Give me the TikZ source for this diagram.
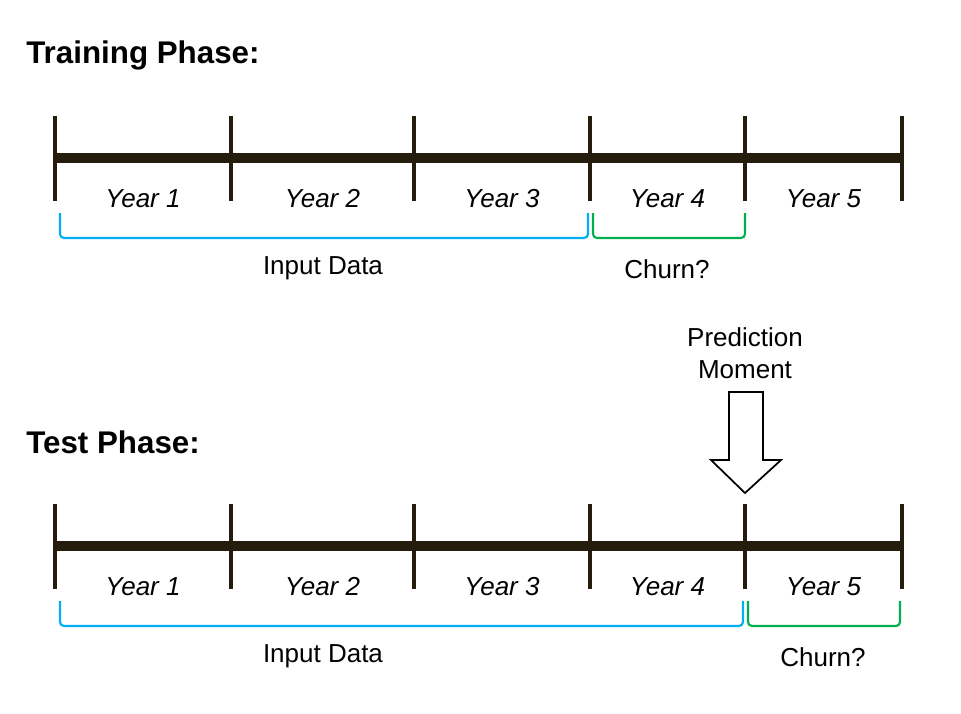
\documentclass[tikz,border=0pt]{standalone}
\usepackage{fontspec}
\setmainfont{Liberation Sans}
\usetikzlibrary{calc}
\definecolor{timeline}{RGB}{38,28,14}
\definecolor{inputblue}{RGB}{0,176,240}
\definecolor{churngreen}{RGB}{0,176,80}

\begin{document}
\begin{tikzpicture}[x=0.75pt,y=-0.75pt,
    axisline/.style={line width=7pt,color=timeline},
    tickline/.style={line width=3pt,color=timeline},
    bracket/.style={line width=1.6pt,rounded corners=3pt},
    yearlbl/.style={font=\itshape\fontsize{19.5}{21}\selectfont},
    textlbl/.style={font=\fontsize{19.5}{24}\selectfont,align=center},
    phase/.style={font=\bfseries\fontsize{23.5}{26}\selectfont,anchor=west,inner sep=0pt}]
    \useasboundingbox (0,0) rectangle (961,714);

    % training phase
    \node[phase] (trainttl) at (26,55) {Training Phase:};
    \foreach \i/\x in {0/55,1/231,2/414,3/590,4/745,5/902}{
        \coordinate (a\i) at (\x,158);
        \draw[tickline] ($(a\i)+(0,-42)$) -- ($(a\i)+(0,43)$);
    }
    \draw[axisline] (a0) -- (a5);
    \foreach \i/\j/\n in {0/1/1,1/2/2,2/3/3,3/4/4,4/5/5}
        \node[yearlbl] (ay\n) at ($(a\i)!0.5!(a\j)+(0,41)$) {Year \n};
    \draw[bracket,inputblue] ($(a0)+(5,55)$) |- ($(a3)+(-2,80)$) coordinate (ain) -- ($(a3)+(-2,55)$);
    \draw[bracket,churngreen] ($(a3)+(3,55)$) |- ($(a4)+(0,80)$) -- ($(a4)+(0,55)$);
    \node[textlbl] (ainput) at (323,268) {Input Data};
    \node[textlbl] (achurn) at (667,269) {Churn?};

    % test phase
    \node[phase] (testttl) at (26,442) {Test Phase:};
    \foreach \i/\x in {0/55,1/231,2/414,3/590,4/745,5/902}{
        \coordinate (b\i) at (\x,546);
        \draw[tickline] ($(b\i)+(0,-42)$) -- ($(b\i)+(0,43)$);
    }
    \draw[axisline] (b0) -- (b5);
    \foreach \i/\j/\n in {0/1/1,1/2/2,2/3/3,3/4/4,4/5/5}
        \node[yearlbl] (by\n) at ($(b\i)!0.5!(b\j)+(0,41)$) {Year \n};
    \draw[bracket,inputblue] ($(b0)+(5,55)$) |- ($(b4)+(-2,80)$) -- ($(b4)+(-2,55)$);
    \draw[bracket,churngreen] ($(b4)+(3,55)$) |- ($(b5)+(-2,80)$) -- ($(b5)+(-2,55)$);
    \node[textlbl] (binput) at (323,656) {Input Data};
    \node[textlbl] (bchurn) at (823,657) {Churn?};

    % prediction moment
    \node[textlbl] (moment) at (745,353) {Prediction\\Moment};
    \coordinate (tip) at ($(b4)+(0,-53)$);
    \draw[line width=1.3pt,fill=white,line join=miter]
        (tip) -- ++(-34,-33) -- ++(18,0) -- ++(0,-68) -- ++(34,0)
        -- ++(0,68) -- ++(18,0) -- cycle;
\end{tikzpicture}
\end{document}
